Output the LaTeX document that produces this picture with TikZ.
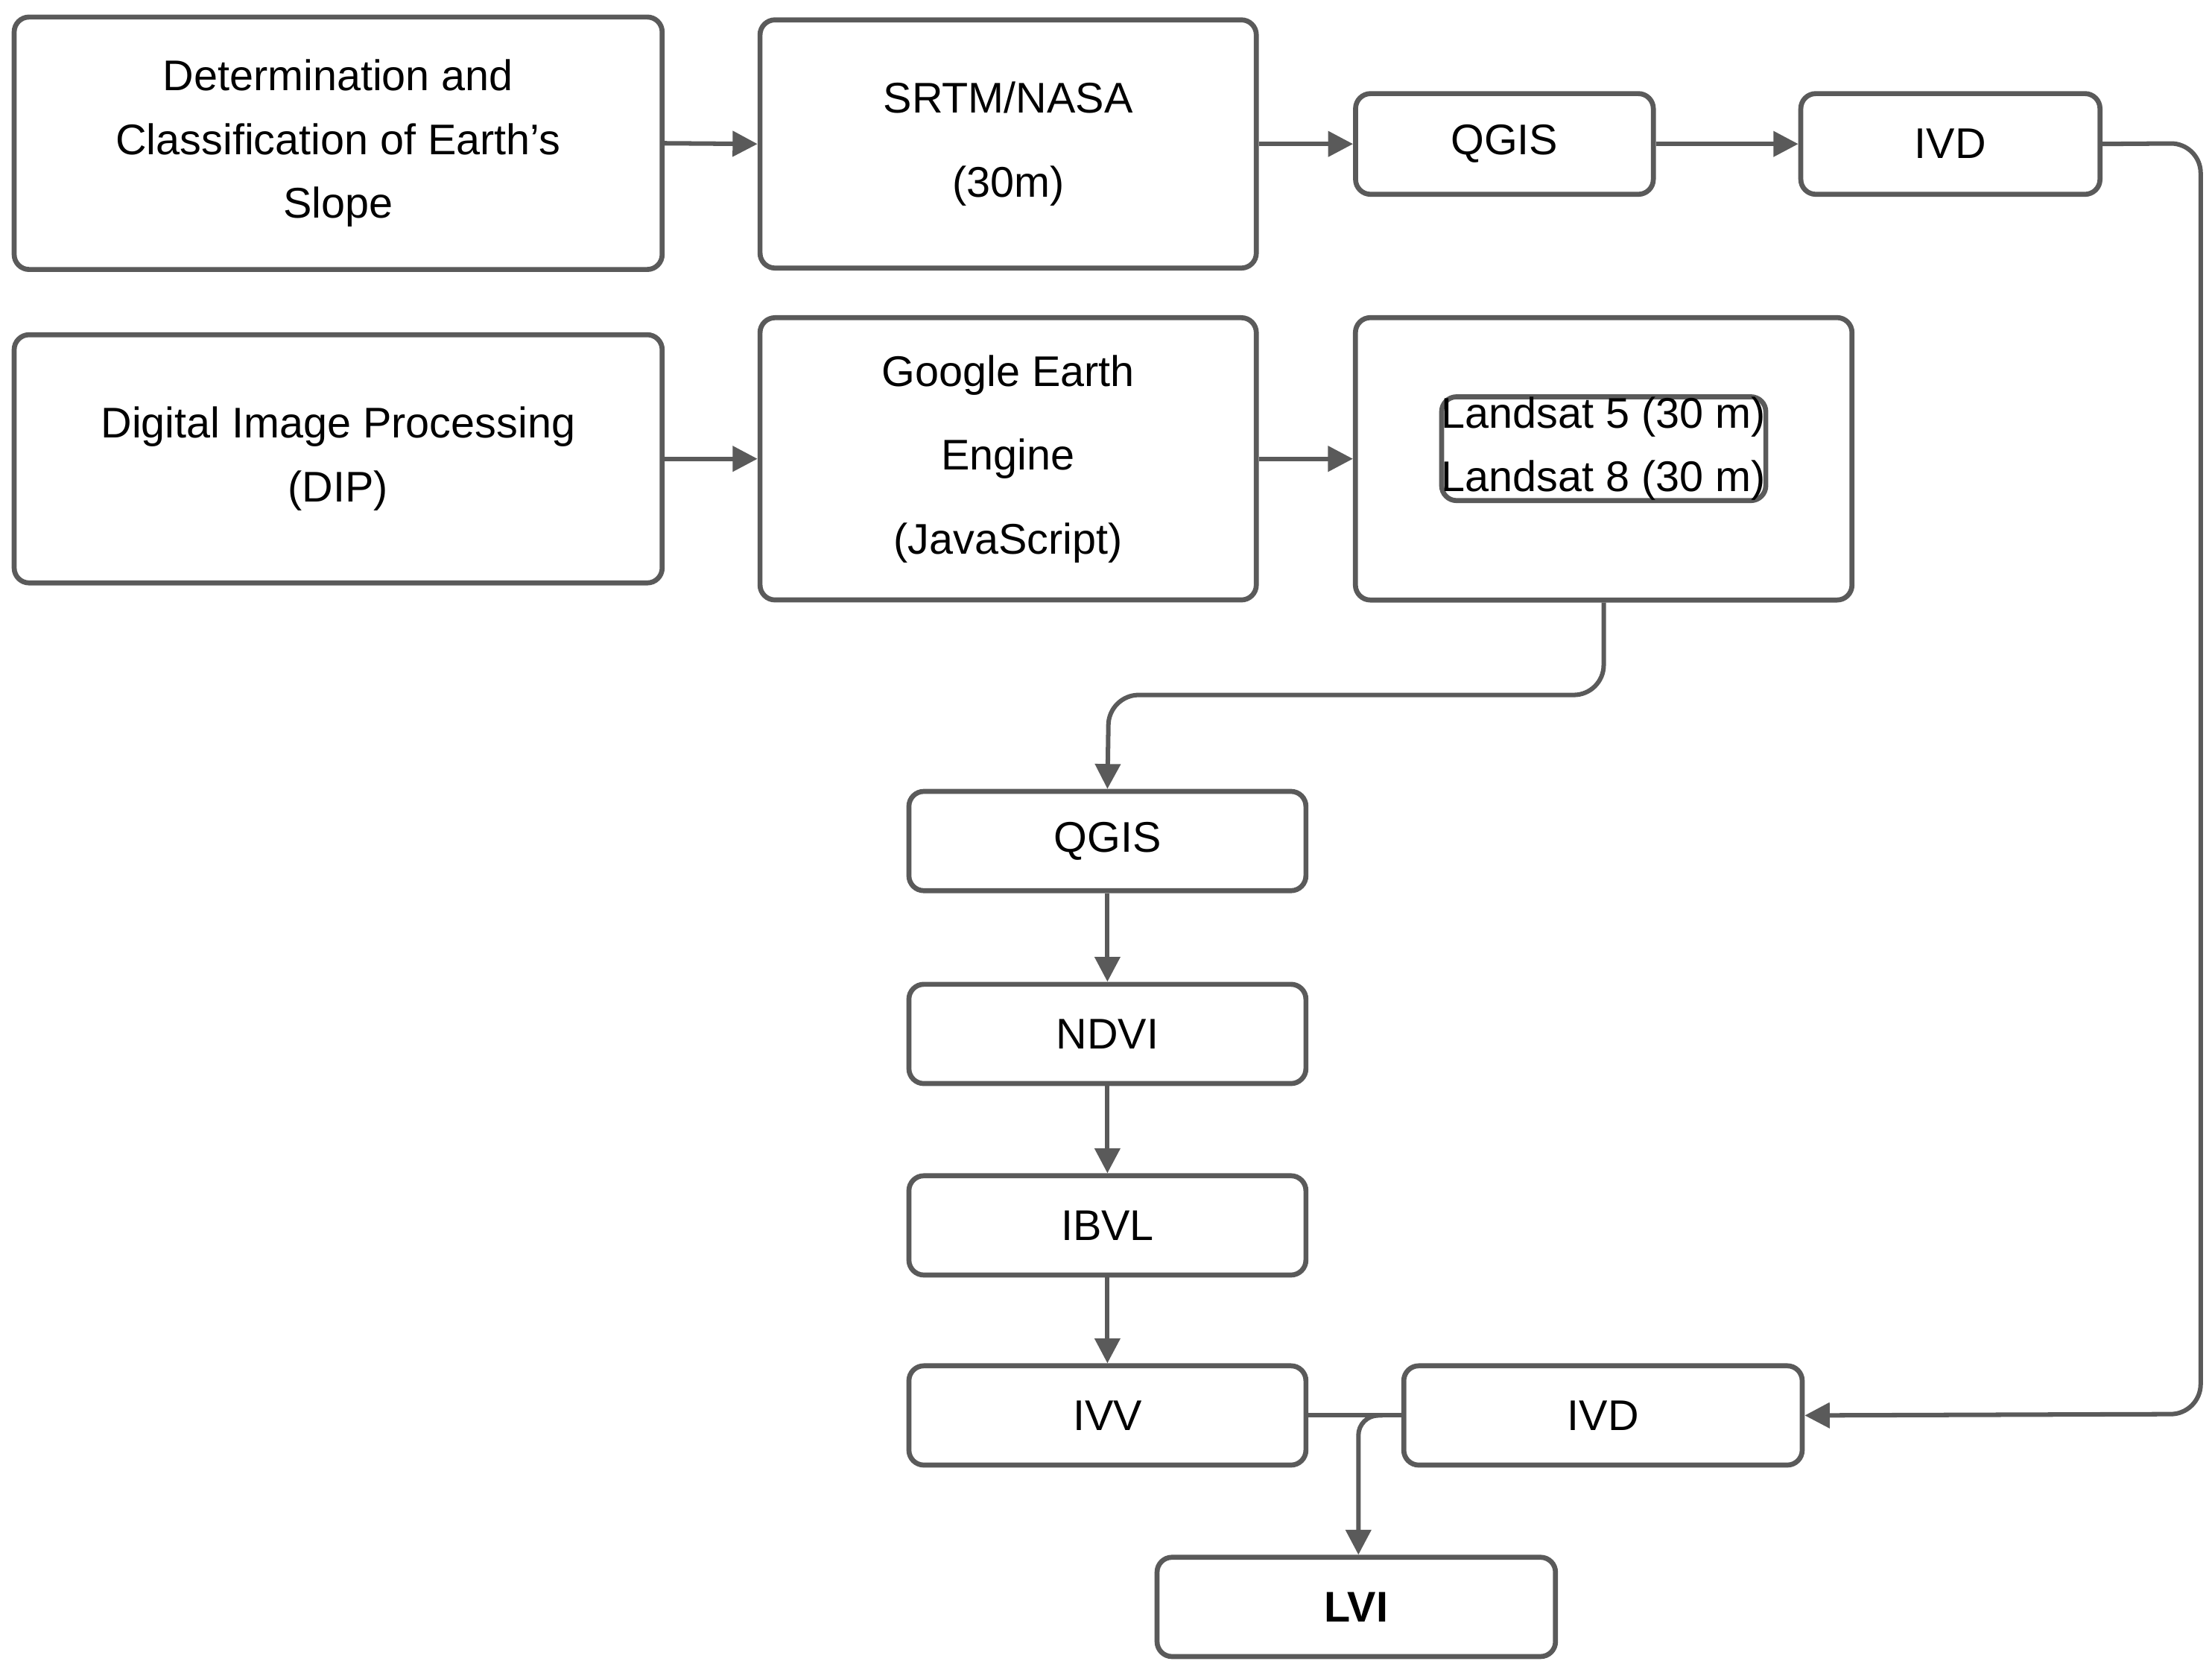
\documentclass[tikz,border=0pt]{standalone}
\usepackage{fontspec}
\setmainfont{Liberation Sans}
\usetikzlibrary{arrows.meta}
\definecolor{ln}{HTML}{5A5A5A}
\begin{document}
\begin{tikzpicture}[x=0.01cm,y=-0.01cm,
  box/.style={draw=ln,line width=1pt,rounded corners=3pt,align=center,inner sep=0pt,font=\fontsize{8.6}{12.8}\selectfont},
  con/.style={draw=ln,line width=0.9pt,-{Triangle[length=5pt,width=5pt]}},
  ln/.style={draw=ln,line width=0.9pt}]
\useasboundingbox (0,0) rectangle (1560,1175);
\newcommand{\bx}[6]{\node[box,minimum width={(#4-#2)*0.01cm},minimum height={(#5-#3)*0.01cm}] (#1) at ({(#2+#4)/2},{(#3+#5)/2}) {#6};}
\bx{A}{10}{12}{467}{190}{Determination and\\Classification of Earth's\\Slope}
\bx{B}{536}{14}{886}{189}{SRTM/NASA\\[4pt](30m)}
\bx{C}{956}{66}{1166}{137}{QGIS}
\bx{D}{1270}{66}{1481}{137}{IVD}
\bx{E}{10}{236}{467}{411}{Digital Image Processing\\(DIP)}
\bx{F}{536}{224}{886}{423}{Google Earth\\[4pt]Engine\\[4pt](JavaScript)}
\node[box,draw,minimum width=3.5cm,minimum height=1.99cm] (G) at (1131,323.5) {};
\node[box,anchor=north] at (1131,278) {Landsat 5 (30 m)\\Landsat 8 (30 m)};
\bx{H}{641}{558}{921}{628}{QGIS}
\bx{I}{641}{694}{921}{764}{NDVI}
\bx{J}{641}{829}{921}{899}{IBVL}
\bx{K}{641}{963}{921}{1033}{IVV}
\bx{L}{990}{963}{1271}{1033}{IVD}
\bx{M}{816}{1098}{1097}{1168}{\textbf{LVI}}
\draw[con] (A.east) -- (B.west);
\draw[con] (B.east) -- (C.west);
\draw[con] (C.east) -- (D.west);
\draw[con] (E.east) -- (E.east -| B.west);
\draw[con] (F.east |- E.east) -- (G.west |- E.east);
\draw[con,rounded corners=6pt] (D.east) -- (1552,101) -- (1552,997) -- (L.east);
\draw[con,rounded corners=6pt] (G.south) -- (1131,490) -- (782,490) -- (H.north);
\draw[con] (H) -- (I);
\draw[con] (I) -- (J);
\draw[con] (J) -- (K);
\draw[ln] (K.east) -- (L.west);
\coordinate (j) at (958,998);
\draw[con,rounded corners=4pt] (975,998) -- (958,998) -- (M.north -| j);
\end{tikzpicture}
\end{document}
